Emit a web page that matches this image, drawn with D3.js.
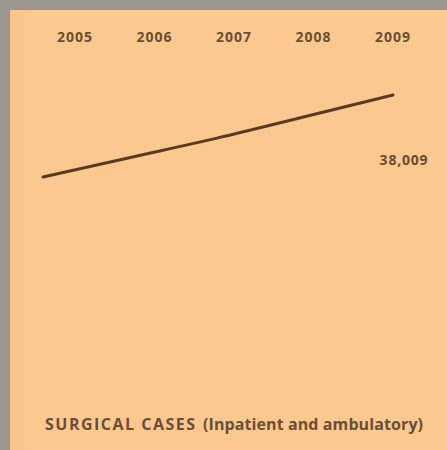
<!DOCTYPE html>
<html>
<head>
<meta charset="utf-8">
<script src="https://cdn.jsdelivr.net/npm/d3@7"></script>
<style>
  html, body { margin: 0; padding: 0; background: #9d958f; }
  svg { display: block; }
</style>
</head>
<body>
<script>
// Surgical cases (inpatient and ambulatory), 2005–2009
const years = ["2005", "2006", "2007", "2008", "2009"];
const cases = [33400, 34500, 35600, 36800, 38009];
const endLabel = "38,009";
const titleMain = "SURGICAL CASES";
const titleNote = "(Inpatient and ambulatory)";

const W = 447, H = 450;
const svg = d3.select("body").append("svg").attr("width", W).attr("height", H);

// grey frame with the peach panel
svg.append("rect").attr("width", W).attr("height", H).attr("fill", "#9d958f");
const defs = svg.append("defs");
const grad = defs.append("linearGradient").attr("id", "panel").attr("x1", 0).attr("x2", 1);
grad.append("stop").attr("offset", 0).attr("stop-color", "#f8c48a");
grad.append("stop").attr("offset", 0.06).attr("stop-color", "#fbc98f");
grad.append("stop").attr("offset", 1).attr("stop-color", "#fbc98f");
svg.append("rect").attr("x", 10).attr("y", 10).attr("width", W - 10).attr("height", H - 10)
  .attr("fill", "url(#panel)");

const textColor = "#6a4e35";
const font = "'Open Sans', 'DejaVu Sans', sans-serif";

// year labels along the top
const xLabel = d3.scalePoint().domain(years).range([75, 393]);
svg.append("g").selectAll("text").data(years).join("text")
  .attr("x", d => xLabel(d))
  .attr("y", 42)
  .attr("text-anchor", "middle")
  .attr("font-family", font)
  .attr("font-weight", 700)
  .attr("font-size", 14)
  .attr("letter-spacing", 1)
  .attr("fill", textColor)
  .text(d => d);

// the trend line
const x = d3.scalePoint().domain(years).range([43, 393]);
const y = d3.scaleLinear().domain([33400, 38009]).range([177, 95]);
const line = d3.line()
  .x((d, i) => x(years[i]))
  .y(d => y(d))
  .curve(d3.curveMonotoneX);
svg.append("path")
  .datum(cases)
  .attr("d", line)
  .attr("fill", "none")
  .attr("stroke", "#5b3a22")
  .attr("stroke-width", 3)
  .attr("stroke-linecap", "round");

// value of the last year
svg.append("text")
  .attr("x", 404)
  .attr("y", 165)
  .attr("text-anchor", "middle")
  .attr("font-family", font)
  .attr("font-weight", 700)
  .attr("font-size", 14)
  .attr("letter-spacing", 0.8)
  .attr("fill", textColor)
  .text(endLabel);

// chart title
const titleStyle = sel => sel
  .attr("y", 430)
  .attr("font-family", font)
  .attr("font-weight", 700)
  .attr("font-size", 16)
  .attr("fill", textColor)
  .attr("lengthAdjust", "spacing");
svg.append("text").call(titleStyle)
  .attr("x", 45).attr("textLength", 150).text(titleMain);
svg.append("text").call(titleStyle)
  .attr("x", 203).attr("textLength", 220).text(titleNote);
</script>
</body>
</html>
